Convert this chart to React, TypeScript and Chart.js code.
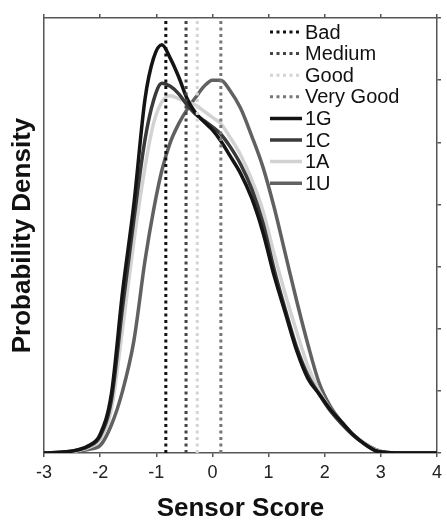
import React, { useEffect, useRef } from "react";
import { Chart, registerables } from "chart.js";

Chart.register(...registerables);

// Sensor score sample positions
const xs = [-3, -2.6, -2.4, -2.2, -2.0, -1.8, -1.6, -1.4, -1.2, -1.05, -0.9, -0.75, -0.6, -0.45, -0.3, -0.15, 0, 0.15, 0.3, 0.5, 0.7, 0.9, 1.1, 1.3, 1.5, 1.7, 1.9, 2.1, 2.3, 2.5, 2.7, 2.9, 3.1, 3.5, 4];

const density1G = [0, 0.002, 0.005, 0.012, 0.03, 0.095, 0.26, 0.4, 0.57, 0.635, 0.657, 0.635, 0.605, 0.57, 0.547, 0.533, 0.52, 0.502, 0.48, 0.45, 0.41, 0.355, 0.285, 0.225, 0.165, 0.12, 0.095, 0.07, 0.05, 0.03, 0.015, 0.004, 0.001, 0, 0];
const density1C = [0, 0.002, 0.005, 0.011, 0.027, 0.085, 0.235, 0.375, 0.505, 0.567, 0.595, 0.59, 0.578, 0.56, 0.545, 0.535, 0.525, 0.513, 0.495, 0.465, 0.425, 0.37, 0.295, 0.23, 0.17, 0.125, 0.095, 0.068, 0.047, 0.029, 0.015, 0.004, 0.001, 0, 0];
const density1A = [0, 0.001, 0.004, 0.009, 0.022, 0.07, 0.2, 0.34, 0.46, 0.53, 0.565, 0.575, 0.57, 0.565, 0.56, 0.55, 0.54, 0.53, 0.51, 0.48, 0.44, 0.39, 0.32, 0.255, 0.195, 0.14, 0.1, 0.07, 0.048, 0.03, 0.016, 0.005, 0.001, 0, 0];
const density1U = [0, 0.001, 0.003, 0.006, 0.012, 0.045, 0.1, 0.18, 0.31, 0.39, 0.455, 0.5, 0.53, 0.553, 0.572, 0.59, 0.6, 0.6, 0.585, 0.555, 0.51, 0.46, 0.395, 0.32, 0.245, 0.175, 0.113, 0.075, 0.05, 0.03, 0.016, 0.006, 0.001, 0, 0];

const seriesLabels = ["1G", "1C", "1A", "1U"];
const seriesValues = [density1G, density1C, density1A, density1U];
const seriesColors = ["#141414", "#3a3a3a", "#d2d2d2", "#616161"];

// Quality thresholds on the sensor score
const thresholdLabels = ["Bad", "Medium", "Good", "Very Good"];
const thresholdValues = [-0.83, -0.47, -0.27, 0.15];
const thresholdColors = ["#111111", "#444444", "#d4d4d4", "#777777"];

const xMin = -3;
const xMax = 4;
const yMin = 0;
const yMax = 0.7;

const FONT = "'Liberation Sans', Arial, Helvetica, sans-serif";

const legendPlugin = {
  id: "insideLegend",
  afterDraw(chart: any) {
    const ctx = chart.ctx;
    const area = chart.chartArea;
    const x0 = area.right - 167;
    const x1 = x0 + 32;
    let y = area.top + 14;
    ctx.save();
    chart.data.datasets.forEach((ds: any) => {
      ctx.beginPath();
      ctx.strokeStyle = ds.borderColor;
      ctx.lineWidth = ds.borderWidth;
      ctx.setLineDash(ds.borderDash || []);
      ctx.lineCap = "butt";
      ctx.moveTo(x0, y);
      ctx.lineTo(x1, y);
      ctx.stroke();
      ctx.setLineDash([]);
      ctx.fillStyle = "#111";
      ctx.font = `20px ${FONT}`;
      ctx.textBaseline = "middle";
      ctx.textAlign = "left";
      ctx.fillText(ds.label, x1 + 3, y + 1);
      y += 21.6;
    });
    ctx.restore();
  },
};

export default function App() {
  const ref = useRef<HTMLCanvasElement | null>(null);

  useEffect(() => {
    if (!ref.current) return;

    const thresholdSets = thresholdLabels.map((label, i) => ({
      label,
      data: [
        { x: thresholdValues[i], y: yMin },
        { x: thresholdValues[i], y: yMax },
      ],
      borderColor: thresholdColors[i],
      backgroundColor: thresholdColors[i],
      borderWidth: 3,
      borderDash: [3, 3.5],
      pointRadius: 0,
      fill: false,
    }));

    const curveSets = seriesLabels.map((label, i) => ({
      label,
      data: xs.map((x, j) => ({ x, y: seriesValues[i][j] })),
      borderColor: seriesColors[i],
      backgroundColor: seriesColors[i],
      borderWidth: 3.5,
      pointRadius: 0,
      fill: false,
      cubicInterpolationMode: "monotone" as const,
    }));

    const chart = new Chart(ref.current, {
      type: "line",
      data: { datasets: [...thresholdSets, ...curveSets] as any },
      options: {
        responsive: false,
        animation: false,
        layout: { padding: 0 },
        plugins: {
          legend: { display: false },
          tooltip: { enabled: false },
        },
        scales: {
          x: {
            type: "linear",
            position: "bottom",
            min: xMin,
            max: xMax,
            ticks: {
              stepSize: 1,
              color: "#222",
              font: { family: FONT, size: 18 },
              padding: 5,
              maxRotation: 0,
            },
            grid: { drawOnChartArea: false, tickLength: 4, color: "#555", lineWidth: 1.5 },
            border: { color: "#555", width: 1.5 },
            title: {
              display: true,
              text: "Sensor Score",
              color: "#111",
              font: { family: FONT, size: 26, weight: "bold", lineHeight: 0.9 },
              padding: { top: 0, bottom: 0 },
            },
            afterFit: (s: any) => {
              s.height = 68;
            },
          },
          xTop: {
            type: "linear",
            position: "top",
            min: xMin,
            max: xMax,
            ticks: { stepSize: 1, display: false },
            grid: { drawOnChartArea: false, tickLength: 4, color: "#555", lineWidth: 1.5 },
            border: { color: "#555", width: 1.5 },
            afterFit: (s: any) => {
              s.height = 18;
            },
          },
          y: {
            type: "linear",
            position: "left",
            min: yMin,
            max: yMax,
            ticks: { display: false, stepSize: 0.1 },
            grid: { display: false },
            border: { color: "#555", width: 1.5 },
            title: {
              display: true,
              text: "Probability Density",
              color: "#111",
              font: { family: FONT, size: 26, weight: "bold", lineHeight: 1 },
              padding: { top: 10, bottom: 0 },
            },
            afterFit: (s: any) => {
              s.width = 44;
            },
          },
          yRight: {
            type: "linear",
            position: "right",
            min: yMin,
            max: yMax,
            ticks: { display: false, stepSize: 0.1 },
            grid: { drawOnChartArea: false, tickLength: 4, color: "#555", lineWidth: 1.5 },
            border: { color: "#555", width: 1.5 },
            afterFit: (s: any) => {
              s.width = 10;
            },
          },
        },
      },
      plugins: [legendPlugin],
    });

    return () => chart.destroy();
  }, []);

  return (
    <div style={{ position: "fixed", left: 0, top: 0, width: 447, height: 521, background: "#fff" }}>
      <canvas ref={ref} width={447} height={521} />
    </div>
  );
}
